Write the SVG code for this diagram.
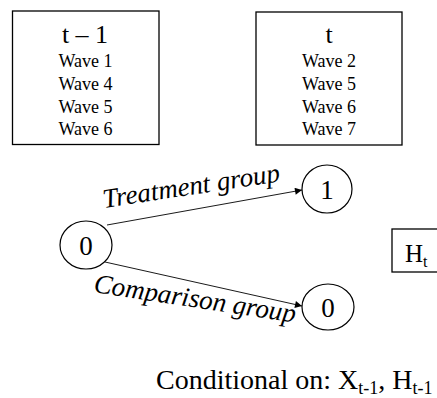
<svg xmlns="http://www.w3.org/2000/svg" width="437" height="398" viewBox="0 0 437 398" font-family="'Liberation Serif', 'Times New Roman', serif">
  <defs>
    <marker id="arrow" viewBox="0 0 10 10" refX="10" refY="5" markerWidth="8" markerHeight="7" markerUnits="userSpaceOnUse" orient="auto">
      <path d="M0,0 L10,5 L0,10 Z" fill="#000"/>
    </marker>
  </defs>
  <style>
    text { font-family: "Liberation Serif", "Times New Roman", serif; fill: #000; }
    .box { fill: #fff; stroke: #000; stroke-width: 1.3; }
    .node { fill: #fff; stroke: #000; stroke-width: 1.2; }
    .head { font-size: 26px; text-anchor: middle; }
    .wave { font-size: 18px; text-anchor: middle; }
    .num { font-size: 27px; text-anchor: middle; }
    .lbl { font-size: 27px; font-style: italic; }
    .edge { stroke: #000; stroke-width: 0.9; fill: none; marker-end: url(#arrow); }
  </style>
  <rect width="437" height="398" fill="#fff"/>

  <g id="period-prev">
    <rect class="box" x="12.5" y="11" width="146.5" height="133.5"/>
    <text class="head" x="85" y="43">t – 1</text>
    <text class="wave" x="85.5" y="67">Wave 1</text>
    <text class="wave" x="85.5" y="90">Wave 4</text>
    <text class="wave" x="85.5" y="112.5">Wave 5</text>
    <text class="wave" x="85.5" y="135">Wave 6</text>
  </g>

  <g id="period-cur">
    <rect class="box" x="256" y="12" width="146" height="133"/>
    <text class="head" x="329" y="43">t</text>
    <text class="wave" x="329" y="67">Wave 2</text>
    <text class="wave" x="329" y="89.5">Wave 5</text>
    <text class="wave" x="329" y="113">Wave 6</text>
    <text class="wave" x="329" y="135">Wave 7</text>
  </g>

  <g id="connectors">
    <line class="edge" x1="107" y1="225" x2="302" y2="190"/>
    <line class="edge" x1="105" y1="262" x2="302" y2="306"/>
    <text class="lbl" transform="translate(104,208) rotate(-8.6)">Treatment group</text>
    <text class="lbl" transform="translate(93,292) rotate(8.6)">Comparison group</text>
  </g>

  <g id="node-start">
    <ellipse class="node" cx="86" cy="245" rx="26" ry="24"/>
    <text class="num" x="86" y="254.5">0</text>
  </g>

  <g id="node-treated">
    <ellipse class="node" cx="327" cy="189" rx="25" ry="24"/>
    <text class="num" x="327" y="198.5">1</text>
  </g>

  <g id="node-comparison">
    <ellipse class="node" cx="328" cy="307" rx="26" ry="23"/>
    <text class="num" x="328" y="316.5">0</text>
  </g>

  <g id="outcome">
    <rect class="box" x="392" y="229" width="50" height="43"/>
    <text x="405" y="262" font-size="25">H<tspan font-size="16" dy="5">t</tspan></text>
  </g>

  <g id="condition">
    <text x="156" y="389" font-size="28">Conditional on: X<tspan font-size="18" dy="5">t-1</tspan><tspan dy="-5">, H</tspan><tspan font-size="18" dy="5">t-1</tspan></text>
  </g>
</svg>
